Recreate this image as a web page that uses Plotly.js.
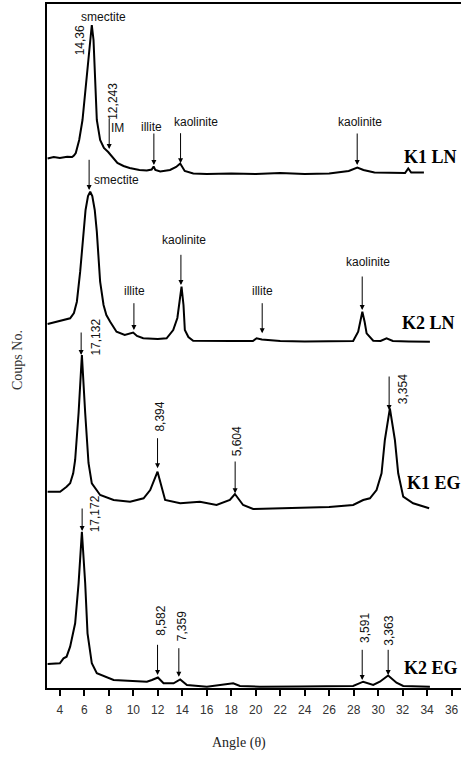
<!DOCTYPE html>
<html>
<head>
<meta charset="utf-8">
<script src="https://cdn.plot.ly/plotly-3.0.1.min.js"></script>
<style>html,body{margin:0;padding:0;background:#fff}#chart{width:461px;height:757px}</style>
</head>
<body>
<div id="chart"></div>
<script>
// ---- data (2θ angle, counts in display units, stacked) ----
const k1lnX = [3.0,3.5,4.0,4.6,5.0,5.15,5.3,5.58,5.85,6.15,6.45,6.61,6.75,6.88,7.02,7.29,7.6,7.95,8.3,8.7,9.2,9.7,10.5,11.1,11.5,11.66,11.8,12.2,13.0,13.5,13.83,14.0,14.2,14.9,16,18,20,22,24,26,26.9,27.6,28.3,28.8,29.7,31,32.2,32.46,32.7,33.74];
const k1lnY = [529.5,531,530,531.3,531,532.5,535,548,568,608,648,663,648,608,568,548,540,536,531,525,522,520,518,517.5,518.5,521.5,518,516.5,518,521,524.5,521,517,514.5,514,514.5,514,515,514,514.5,515.5,517,520.5,518,515.5,515,515,519.5,515.5,515.5];

const k2lnX = [3.0,3.75,4.84,5.15,5.39,5.66,5.94,6.1,6.3,6.48,6.65,6.85,7.02,7.29,7.57,7.8,8.11,8.63,9.3,9.99,10.3,10.81,12.0,12.72,13.26,13.6,13.94,14.1,14.21,14.5,14.89,16,18,19.77,20.07,20.5,22,24,26,27.96,28.37,28.55,28.71,28.9,29.06,29.6,30.2,30.69,31.2,32.5,34.23];
const k2lnY = [364,366.3,369.7,375,386.3,416.3,456.3,478,492,496.3,492,478,456.3,406.3,383,373,366.3,356.3,353,355.5,352,349.7,349,349.7,358,370,401.3,383,358,351,347.3,347,347,347,349.7,348.5,347,346.5,347,347,356.3,368,376.3,366,354.7,347.3,347,349.7,347,346.5,346.3];

const k1egX = [3.0,4.02,4.55,4.84,5.09,5.25,5.53,5.80,6.07,6.34,6.61,7.29,8.39,9.74,10.84,11.38,11.98,12.33,12.60,13.83,15.44,16.80,17.89,18.30,18.97,19.79,21.5,23.88,26,27.96,28.78,29.33,29.87,30.28,30.55,30.96,31.37,31.64,32.05,32.86,34.17];
const k1egY = [196.3,196.3,201.3,204.7,214.7,228,275,333,275,225,204.7,193,188,186.3,189.7,198,216.3,201.3,188,184.7,186.3,183,188,194,183,179,179.5,179.7,181,183,188,189.7,198,214.7,248,279.7,248,214.7,191.3,184.7,179.7];

const k2egX = [3.0,4.0,4.30,4.55,4.84,4.96,5.25,5.53,5.80,6.07,6.26,6.61,7.02,8.39,11.11,11.52,12.01,12.47,13.29,13.83,14.38,16.01,18.16,18.71,20.34,23.6,27.96,28.78,29.60,30.14,30.82,31.50,32.05,34.23];
const k2egY = [24,24.7,29.7,31.3,41.3,48,64.7,104.7,156.3,104.7,54.7,24.7,14.7,8,6.3,8,10.5,4.7,4.7,8.5,3,1.3,4.7,2,1.3,1.5,2,6.3,3,6.3,12.5,5.3,2,1.3];

const sampleNames = ["K1 LN","K2 LN","K1 EG","K2 EG"];
const tickValues = [4,6,8,10,12,14,16,18,20,22,24,26,28,30,32,34,36];

// peak labels: text, x, y, rotated?
const peakLabelText = ["smectite","14,36","12,243","IM","illite","kaolinite","kaolinite",
  "smectite","kaolinite","illite","illite","kaolinite",
  "17,132","8,394","5,604","3,354",
  "17,172","8,582","7,359","3,591","3,363"];
const peakLabelX = [7.54,5.63,8.35,8.74,11.49,15.09,28.49, 8.63,14.15,10.06,20.54,29.19, 6.92,12.17,18.44,32.05, 6.86,12.25,13.94,28.98,30.88];
const peakLabelY = [671.3,647.5,586.3,560.3,561.3,565.7,565.7, 508,448,397.3,397.3,425.7, 351,271.3,246.3,299, 174.5,67.2,61.3,59.7,57.2];
const peakLabelRot = [0,1,1,0,0,0,0, 0,0,0,0,0, 1,1,1,1, 1,1,1,1,1];

// arrows: tip x, tip y, length (px)
const arrowX = [8.03,11.68,13.86,28.29, 6.39,13.89,10.05,20.53,28.70, 5.74,11.98,18.32,30.90, 5.82,11.98,13.72,28.70,30.82];
const arrowY = [539,523,524.7,523, 498,403,358,354.7,378, 333,219.7,194.7,278, 157,13,11.3,8,13];
const arrowLen = [32,33,31.6,33, 31.7,31.7,28.3,31.6,35, 24,31.6,33.3,35, 24,31.7,30,31.7,26.7];

// sample label positions
const nameX = [31.92,31.78,32.19,31.92];
const nameY = [531.3,364.7,204.7,19.7];

// ---- build ----
const xs = [k1lnX,k2lnX,k1egX,k2egX];
const ys = [k1lnY,k2lnY,k1egY,k2egY];
const traces = xs.map((x,i)=>({
  x:x, y:ys[i], type:'scatter', mode:'lines', name:sampleNames[i],
  line:{color:'#000', width:2}, hoverinfo:'skip'
}));

const ann = [];
peakLabelText.forEach((t,i)=>{
  ann.push({x:peakLabelX[i], y:peakLabelY[i], xref:'x', yref:'y', text:t, showarrow:false,
    textangle: peakLabelRot[i] ? -90 : 0, xanchor:'center', yanchor:'middle',
    font:{family:'Liberation Sans, Arial, sans-serif', size:12, color:'#111'}});
});
arrowX.forEach((x,i)=>{
  ann.push({x:x, y:arrowY[i], xref:'x', yref:'y', text:'', showarrow:true,
    ax:0, ay:-arrowLen[i], arrowhead:2, arrowsize:1, arrowwidth:1, arrowcolor:'#000',
    standoff:0, startstandoff:0, font:{size:1}});
});
sampleNames.forEach((n,i)=>{
  ann.push({x:nameX[i], y:nameY[i], xref:'x', yref:'y', text:'<b>'+n+'</b>', showarrow:false,
    xanchor:'left', yanchor:'middle',
    font:{family:'Liberation Serif, Times New Roman, serif', size:18, color:'#000'}});
});
ann.push({x:0.464, y:-0.0804, xref:'paper', yref:'paper', text:'Angle (θ)', showarrow:false,
  xanchor:'center', yanchor:'middle',
  font:{family:'Liberation Serif, Times New Roman, serif', size:14, color:'#222'}});
ann.push({x:-0.0725, y:0.4795, xref:'paper', yref:'paper', text:'Coups No.', showarrow:false,
  textangle:-90, xanchor:'center', yanchor:'middle',
  font:{family:'Liberation Serif, Times New Roman, serif', size:14, color:'#333'}});

const layout = {
  width:461, height:757,
  margin:{l:47, r:0, t:4, b:69, pad:0},
  paper_bgcolor:'#fff', plot_bgcolor:'#fff',
  showlegend:false,
  xaxis:{range:[2.95,36.77], tickvals:tickValues, ticktext:tickValues.map(String),
    ticks:'outside', ticklen:6, tickwidth:2, tickcolor:'#000',
    showline:true, linewidth:2, linecolor:'#000', mirror:true,
    showgrid:false, zeroline:false, ticklabelstandoff:4,
    tickfont:{family:'Liberation Sans, Arial, sans-serif', size:12, color:'#333'}},
  yaxis:{range:[0,684], showline:true, linewidth:2, linecolor:'#000',
    showticklabels:false, ticks:'', showgrid:false, zeroline:false},
  annotations:ann
};
Plotly.newPlot('chart', traces, layout, {staticPlot:true, displayModeBar:false});
</script>
</body>
</html>
